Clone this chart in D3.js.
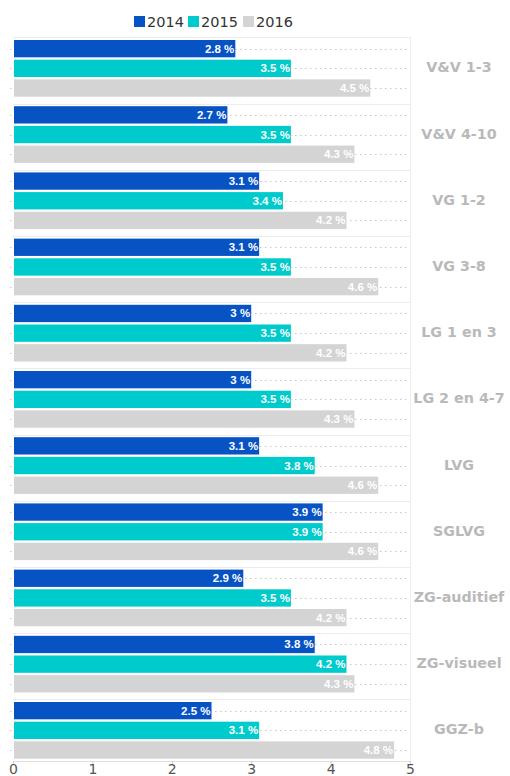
<!DOCTYPE html>
<html><head><meta charset="utf-8">
<script src="https://cdn.jsdelivr.net/npm/d3@7"></script>
<style>body{margin:0;background:#fff}svg{display:block}</style>
</head><body>
<script>
const categories = ["V&V 1-3","V&V 4-10","VG 1-2","VG 3-8","LG 1 en 3","LG 2 en 4-7","LVG","SGLVG","ZG-auditief","ZG-visueel","GGZ-b"];
const years = ["2014","2015","2016"];
const values2014 = [2.8,2.7,3.1,3.1,3,3,3.1,3.9,2.9,3.8,2.5];
const values2015 = [3.5,3.5,3.4,3.5,3.5,3.5,3.8,3.9,3.5,4.2,3.1];
const values2016 = [4.5,4.3,4.2,4.6,4.2,4.3,4.6,4.6,4.2,4.3,4.8];
const xTicks = [0,1,2,3,4,5];
const colors = ["#0753c4","#00cbcc","#d4d4d4"];

const series = [values2014, values2015, values2016];
const W = 510, H = 776;
const svg = d3.select("body").append("svg").attr("width", W).attr("height", H);

const x = d3.scaleLinear().domain([0,5]).range([13,410]);
const y = d3.scaleBand().domain(categories).range([37.3,765.5]).padding(0);
const yInner = d3.scaleBand().domain(years).range([2.7, 59.4]).paddingInner(0.12).paddingOuter(0);
const axisY = 761;

// band separators
svg.append("g").selectAll("line").data(categories).join("line")
  .attr("x1", x(0)).attr("x2", x(5)+1)
  .attr("y1", d => Math.round(y(d))+0.5).attr("y2", d => Math.round(y(d))+0.5)
  .attr("stroke", "#ececec").attr("stroke-width", 1);

// right vertical gridline
svg.append("line").attr("x1", x(5)+0.5).attr("x2", x(5)+0.5)
  .attr("y1", y(categories[0])).attr("y2", axisY)
  .attr("stroke", "#eeeeee");

// dotted gridlines per bar row
const rows = [];
categories.forEach((c,i) => years.forEach((yr,j) => rows.push({c, yr, j, v: series[j][i]})));
svg.append("g").selectAll("line").data(rows).join("line")
  .attr("x1", x(0)-3).attr("x2", x(5))
  .attr("y1", d => Math.round(y(d.c) + yInner(d.yr) + yInner.bandwidth()/2)+0.5)
  .attr("y2", d => Math.round(y(d.c) + yInner(d.yr) + yInner.bandwidth()/2)+0.5)
  .attr("stroke", "#c8c8c8").attr("stroke-dasharray", "1.5,3.5").attr("stroke-width", 1);

// bars
svg.append("g").selectAll("rect").data(rows).join("rect")
  .attr("x", x(0)+1)
  .attr("y", d => y(d.c) + yInner(d.yr))
  .attr("width", d => x(d.v) - x(0) - 1)
  .attr("height", yInner.bandwidth())
  .attr("fill", d => colors[d.j]);

// value labels
svg.append("g").selectAll("text").data(rows).join("text")
  .attr("x", d => x(d.v) - 1)
  .attr("y", d => y(d.c) + yInner(d.yr) + yInner.bandwidth()/2 + 4)
  .attr("text-anchor", "end")
  .attr("font-family", "Liberation Sans, Arial, sans-serif")
  .attr("font-weight", "bold").attr("font-size", "11.5px")
  .attr("fill", "#ffffff")
  .text(d => d3.format("~g")(d.v) + " %");

// category labels
svg.append("g").selectAll("text").data(categories).join("text")
  .attr("x", 459)
  .attr("y", d => y(d) + y.bandwidth()/2 + 2)
  .attr("text-anchor", "middle")
  .attr("font-family", "DejaVu Sans, Verdana, sans-serif")
  .attr("font-weight", "bold").attr("font-size", "14.3px")
  .attr("fill", "#b9b9b9")
  .text(d => d);

// x axis
const axis = svg.append("g").attr("transform", `translate(0,${axisY})`)
  .call(d3.axisBottom(x).tickValues(xTicks).tickSize(4).tickPadding(1).tickFormat(d3.format("d")));
axis.select(".domain").attr("stroke", "#e0e0e0");
axis.selectAll(".tick line").attr("stroke", "#cccccc");
axis.selectAll(".tick text").attr("font-family", "DejaVu Sans, Verdana, sans-serif")
  .attr("font-size", "14px").attr("fill", "#555").attr("y", 0).attr("dy", "0").attr("dominant-baseline", "auto")
  .attr("transform", "translate(0,12.5)");

// legend
const legend = svg.append("g");
const legendX = [134, 188, 243];
years.forEach((yr, j) => {
  legend.append("rect").attr("x", legendX[j]).attr("y", 16).attr("width", 11).attr("height", 11).attr("fill", colors[j]);
  legend.append("text").attr("x", legendX[j] + 13).attr("y", 27)
    .attr("font-family", "DejaVu Sans, Verdana, sans-serif").attr("font-size", "14.5px")
    .attr("fill", "#333").text(yr);
});
</script>
</body></html>
